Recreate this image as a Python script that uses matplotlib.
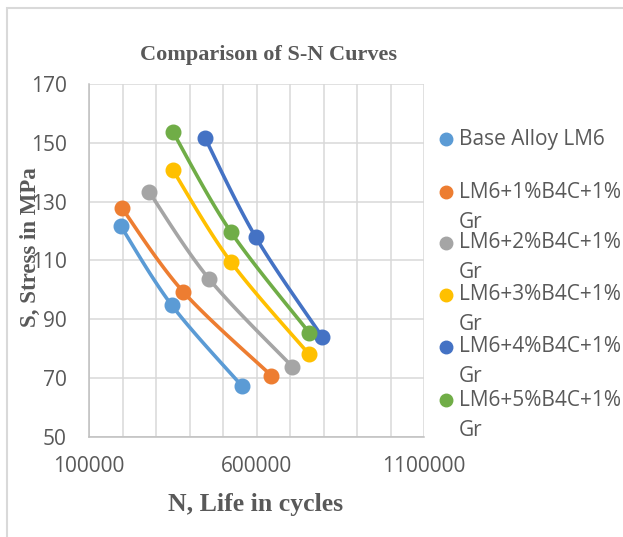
import numpy as np
import matplotlib
matplotlib.use("Agg")
import matplotlib.pyplot as plt
from matplotlib.patches import Rectangle
from matplotlib.lines import Line2D

# S-N data
series_names = [
    "Base Alloy LM6",
    "LM6+1%B4C+1%\nGr",
    "LM6+2%B4C+1%\nGr",
    "LM6+3%B4C+1%\nGr",
    "LM6+4%B4C+1%\nGr",
    "LM6+5%B4C+1%\nGr",
]
colors = ["#5B9BD5", "#ED7D31", "#A5A5A5", "#FFC000", "#4472C4", "#70AD47"]

life_base = [195000, 347000, 556000]
stress_base = [121.7, 94.8, 67.4]
life_1 = [199000, 381000, 644000]
stress_1 = [127.7, 99.4, 70.9]
life_2 = [279000, 458000, 707000]
stress_2 = [133.4, 103.8, 73.9]
life_3 = [350000, 523000, 757000]
stress_3 = [140.8, 109.6, 78.1]
life_4 = [447000, 598000, 797000]
stress_4 = [151.5, 117.9, 83.9]
life_5 = [350000, 523000, 757000]
stress_5 = [153.8, 119.8, 85.5]

lives = [life_base, life_1, life_2, life_3, life_4, life_5]
stresses = [stress_base, stress_1, stress_2, stress_3, stress_4, stress_5]

x_ticks = [100000, 600000, 1100000]
y_ticks = [50, 70, 90, 110, 130, 150, 170]

TXT = "#595959"
SANS = ["Open Sans", "DejaVu Sans"]
SERIF = ["Liberation Serif", "DejaVu Serif"]


def smooth(x, y, n=40):
    # excel-like smoothed line: bezier segments with catmull-rom tangents
    x = np.asarray(x, float)
    y = np.asarray(y, float)
    px = np.concatenate([[x[0]], x, [x[-1]]])
    py = np.concatenate([[y[0]], y, [y[-1]]])
    xs, ys = [], []
    t = np.linspace(0, 1, n)
    for i in range(1, len(px) - 2):
        p0 = np.array([px[i], py[i]])
        p3 = np.array([px[i + 1], py[i + 1]])
        p1 = p0 + (np.array([px[i + 1], py[i + 1]]) - np.array([px[i - 1], py[i - 1]])) / 6
        p2 = p3 - (np.array([px[i + 2], py[i + 2]]) - np.array([px[i], py[i]])) / 6
        b = ((1 - t) ** 3)[:, None] * p0 + (3 * (1 - t) ** 2 * t)[:, None] * p1 \
            + (3 * (1 - t) * t ** 2)[:, None] * p2 + (t ** 3)[:, None] * p3
        xs.extend(b[:, 0])
        ys.extend(b[:, 1])
    return xs, ys


W, H = 623, 537
fig = plt.figure(figsize=(W / 100, H / 100), dpi=100)

# chart frame, runs off the right and bottom edges
fig.patches.append(Rectangle((7 / W, -0.1), 1.2, (H - 8) / H + 0.1, transform=fig.transFigure,
                             fill=False, edgecolor="#D9D9D9", lw=1.5, clip_on=False))

# clipped line of document text above the chart
fig.text(0.02, (H + 10) / H, "compared with S-N Curve of base alloy LM6.", family=SERIF,
         fontsize=15, color="black", va="center")

ax = fig.add_axes([89 / W, (H - 437) / H, 335 / W, 353 / H])

for lf, st, c in zip(lives, stresses, colors):
    sx, sy = smooth(lf, st)
    ax.plot(sx, sy, color=c, lw=2.6, solid_capstyle="round", zorder=3)
    ax.plot(lf, st, "o", color=c, ms=10.5, mec=c, zorder=4)

ax.set_xlim(100000, 1100000)
ax.set_ylim(50, 170)
ax.set_xticks(x_ticks)
ax.set_xticklabels([str(v) for v in x_ticks])
ax.set_xticks(np.arange(100000, 1100001, 100000), minor=True)
ax.set_yticks(y_ticks)
ax.set_yticklabels([str(v) for v in y_ticks])
ax.grid(True, which="both", color="#D9D9D9", lw=1.1, zorder=0)
ax.tick_params(which="both", length=0)
ax.tick_params(axis="y", pad=16, labelsize=15, labelcolor=TXT)
ax.tick_params(axis="x", pad=14, labelsize=15, labelcolor=TXT)
for lab in ax.get_xticklabels() + ax.get_yticklabels():
    lab.set_family(SANS)
for s in ["top", "right"]:
    ax.spines[s].set_visible(False)
for s in ["left", "bottom"]:
    ax.spines[s].set_color("#BFBFBF")
    ax.spines[s].set_linewidth(1.1)

fig.text(268 / W, (H - 55) / H, "Comparison of S-N Curves", family=SERIF, weight="bold",
         fontsize=16, color=TXT, ha="center", va="center")
fig.text(256 / W, (H - 505) / H, "N, Life in cycles", family=SERIF, weight="bold",
         fontsize=18.5, color=TXT, ha="center", va="center")
fig.text(30 / W, (H - 247) / H, "S, Stress in MPa", family=SERIF, weight="bold",
         fontsize=16.5, color=TXT, ha="center", va="center", rotation=90)

# legend drawn by hand so the wrapped labels sit like excel's
legend_y = [139, 192, 243, 295, 347, 400]
for name, c, ly in zip(series_names, colors, legend_y):
    fig.add_artist(Line2D([446 / W], [(H - ly) / H], marker="o", ms=9, color=c,
                          transform=fig.transFigure))
    for k, line in enumerate(name.split("\n")):
        fig.text(459 / W, (H - ly - 30 * k) / H, line, family=SANS, fontsize=15,
                 color=TXT, ha="left", va="center")

fig.savefig("out.png", dpi=100)
